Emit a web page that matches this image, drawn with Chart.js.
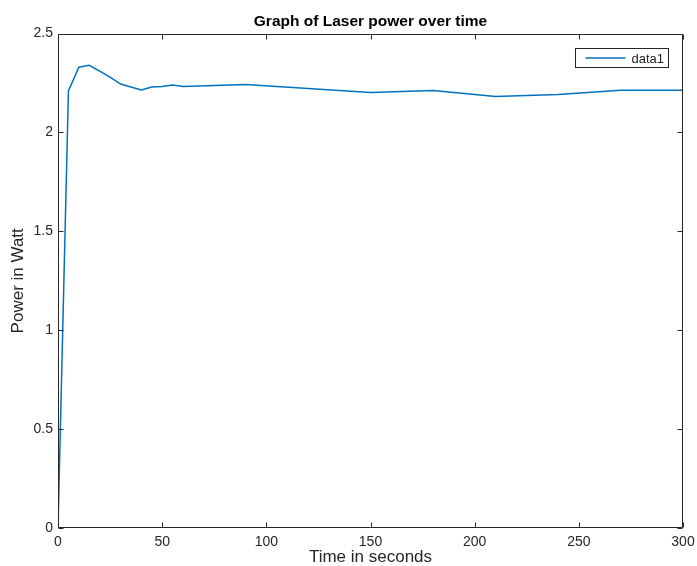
<!DOCTYPE html>
<html>
<head>
<meta charset="utf-8">
<title>Laser power</title>
<script src="https://cdn.jsdelivr.net/npm/chart.js@4.4.1/dist/chart.umd.min.js"></script>
<style>
  html, body { margin: 0; padding: 0; background: #ffffff; }
  #grafico { display: block; }
</style>
</head>
<body>
<canvas id="grafico" width="697" height="566"></canvas>
<script>
// Measured laser power (W) against time (s)
const tiempos = [0, 5, 10, 15, 20, 25, 30, 35, 40, 45, 50, 55, 60, 90, 120, 150, 180, 210, 240, 270, 300];
const potencias = [0, 2.21, 2.33, 2.34, 2.31, 2.28, 2.245, 2.23, 2.215, 2.23, 2.232, 2.24, 2.232, 2.243, 2.223, 2.202, 2.212, 2.182, 2.192, 2.213, 2.213];

// Tick positions and labels
const ticksX = [0, 50, 100, 150, 200, 250, 300];
const ticksY = [0, 0.5, 1, 1.5, 2, 2.5];
const etiquetasY = ['0', '0.5', '1', '1.5', '2', '2.5'];

const colorEje = '#262626';
const colorLinea = '#0072BD';
const fuente = "'Liberation Sans', Arial, Helvetica, sans-serif";

// Box around the axes with inward ticks, plus the small legend in the corner
const cajaEjes = {
  id: 'cajaEjes',
  afterDatasetsDraw(chart) {
    const { ctx, chartArea: a, scales: { x, y } } = chart;
    const l = Math.round(a.left) + 0.5;
    const r = Math.round(a.right) - 0.5;
    const t = Math.round(a.top) + 0.5;
    const b = Math.round(a.bottom) - 0.5;
    const largo = 5;

    ctx.save();
    ctx.strokeStyle = colorEje;
    ctx.lineWidth = 1;
    ctx.beginPath();
    ctx.rect(l, t, r - l, b - t);
    ticksX.forEach(v => {
      const px = Math.round(x.getPixelForValue(v)) + 0.5;
      ctx.moveTo(px, b); ctx.lineTo(px, b - largo);
      ctx.moveTo(px, t); ctx.lineTo(px, t + largo);
    });
    ticksY.forEach(v => {
      const py = Math.round(y.getPixelForValue(v)) + 0.5;
      ctx.moveTo(l, py); ctx.lineTo(l + largo, py);
      ctx.moveTo(r, py); ctx.lineTo(r - largo, py);
    });
    ctx.stroke();

    // legend box
    const ds = chart.data.datasets[0];
    const lx = 575.5, ly = 48.5, lw = 93, lh = 19;
    ctx.fillStyle = '#ffffff';
    ctx.fillRect(lx, ly, lw, lh);
    ctx.strokeStyle = colorEje;
    ctx.strokeRect(lx, ly, lw, lh);
    ctx.beginPath();
    ctx.strokeStyle = ds.borderColor;
    ctx.lineWidth = ds.borderWidth;
    ctx.moveTo(lx + 10, ly + lh / 2);
    ctx.lineTo(lx + 50, ly + lh / 2);
    ctx.stroke();
    ctx.fillStyle = colorEje;
    ctx.font = '13px ' + fuente;
    ctx.textBaseline = 'middle';
    ctx.textAlign = 'left';
    ctx.fillText(ds.label, lx + 56, ly + lh / 2 + 1);
    ctx.restore();
  }
};

const ctx = document.getElementById('grafico').getContext('2d');

new Chart(ctx, {
  type: 'line',
  data: {
    datasets: [{
      label: 'data1',
      data: tiempos.map((t, i) => ({ x: t, y: potencias[i] })),
      borderColor: colorLinea,
      borderWidth: 1.5,
      pointRadius: 0,
      tension: 0,
      fill: false
    }]
  },
  options: {
    responsive: false,
    animation: false,
    layout: { padding: { top: 0, right: 14, bottom: 0, left: 0 } },
    plugins: {
      legend: { display: false },
      tooltip: { enabled: false },
      title: {
        display: true,
        text: 'Graph of Laser power over time',
        fullSize: false,
        color: '#000000',
        font: { family: fuente, size: 15.5, weight: 'bold', lineHeight: 1.2 },
        padding: { top: 12, bottom: 3 }
      }
    },
    scales: {
      x: {
        type: 'linear',
        min: 0,
        max: 300,
        grid: { display: false, drawTicks: false },
        border: { display: false },
        afterFit: s => { s.height = 38; s.paddingLeft = 0; s.paddingRight = 0; },
        afterBuildTicks: s => { s.ticks = ticksX.map(v => ({ value: v })); },
        ticks: {
          color: colorEje,
          padding: 6,
          maxRotation: 0,
          font: { family: fuente, size: 14 },
          callback: v => String(v)
        },
        title: {
          display: true,
          text: 'Time in seconds',
          color: colorEje,
          font: { family: fuente, size: 17, lineHeight: 1 },
          padding: 0
        }
      },
      y: {
        min: 0,
        max: 2.5,
        grid: { display: false, drawTicks: false },
        border: { display: false },
        afterFit: s => { s.width = 58; s.paddingTop = 0; s.paddingBottom = 0; },
        afterBuildTicks: s => { s.ticks = ticksY.map(v => ({ value: v })); },
        ticks: {
          color: colorEje,
          padding: 5,
          font: { family: fuente, size: 14 },
          callback: v => etiquetasY[ticksY.indexOf(v)]
        },
        title: {
          display: true,
          text: 'Power in Watt',
          color: colorEje,
          font: { family: fuente, size: 17, lineHeight: 1 },
          padding: { top: 10, bottom: 0 }
        }
      }
    }
  },
  plugins: [cajaEjes]
});
</script>
</body>
</html>
